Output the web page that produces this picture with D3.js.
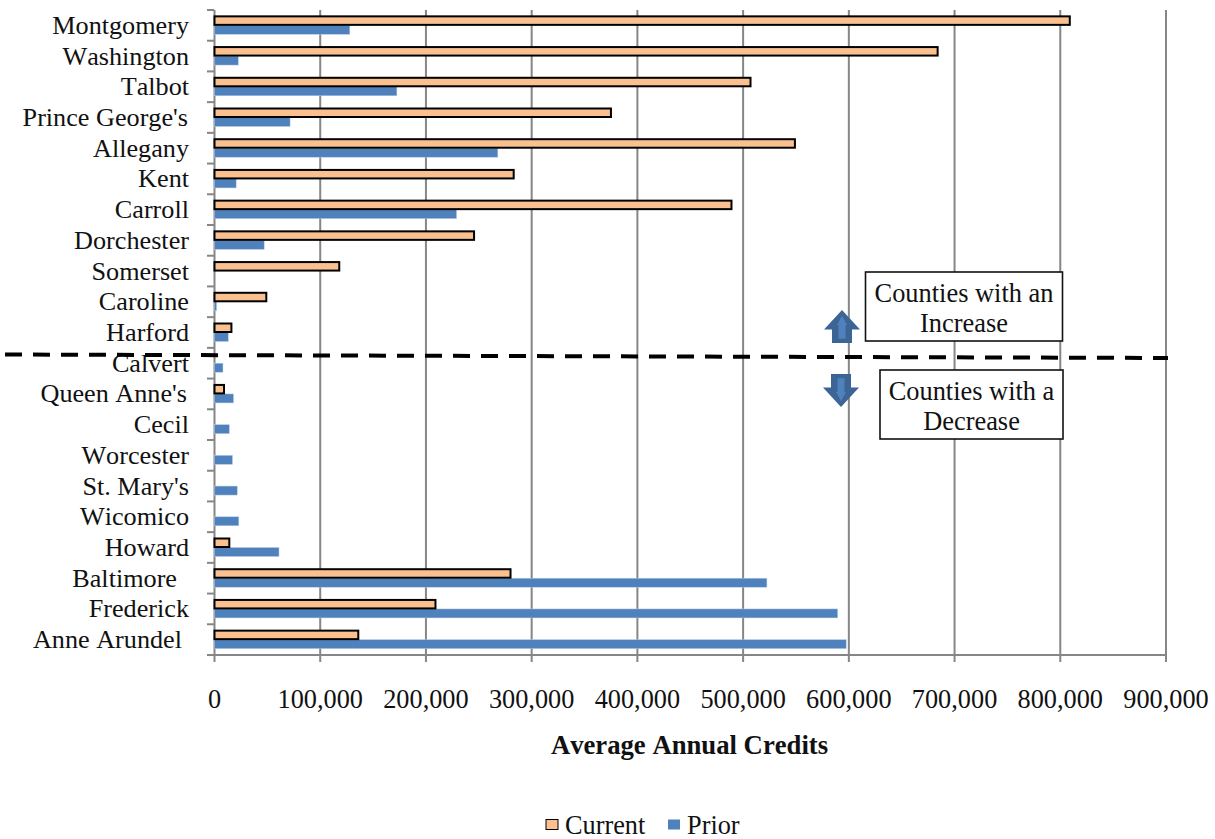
<!DOCTYPE html>
<html><head><meta charset="utf-8">
<script src="https://cdn.jsdelivr.net/npm/d3@7/dist/d3.min.js"></script>
<style>html,body{margin:0;padding:0;background:#fff}svg{display:block}text{font-family:"Liberation Serif",serif;fill:#111;font-kerning:none}</style>
</head><body><svg id="c" width="1215" height="839"></svg>
<script>
const counties=["Montgomery","Washington","Talbot","Prince George's","Allegany","Kent","Carroll","Dorchester","Somerset","Caroline","Harford","Calvert","Queen Anne's","Cecil","Worcester","St. Mary's","Wicomico","Howard","Baltimore","Frederick","Anne Arundel"];
const current=[809000,684000,507000,375000,549000,283000,489000,245500,118000,49000,16000,0,9000,0,0,0,0,14000,280000,209000,136000];
const prior=[128000,22500,172500,71500,268000,20500,229000,47000,0,2000,13000,8000,18000,14000,17000,21500,23000,61000,522500,589500,597500];
const labelShift=[0,0,0,1,0,0,0,0,0,0,0,0,2,0,0,0,0,0,12,0,7];
const xTicks=[0,100000,200000,300000,400000,500000,600000,700000,800000,900000];
const seriesNames=["Current","Prior"];
const colors=["#fac090","#4f81bd"];

const svg=d3.select("#c");
const x=d3.scaleLinear().domain([0,900000]).range([214.5,1166]);
const y=d3.scaleBand().domain(counties).range([10,655]);
const grey="#868686";
const fmt=d3.format(",");

svg.append("g").selectAll("line").data(xTicks).join("line")
 .attr("x1",d=>x(d)).attr("x2",d=>x(d)).attr("y1",10).attr("y2",662)
 .attr("stroke",grey).attr("stroke-width",2);
svg.append("line").attr("x1",207).attr("x2",1166).attr("y1",655).attr("y2",655).attr("stroke",grey).attr("stroke-width",2);
const catEdges=counties.map(c=>y(c));
svg.append("g").selectAll("line").data(catEdges).join("line")
 .attr("x1",207).attr("x2",214).attr("y1",d=>d).attr("y2",d=>d).attr("stroke",grey).attr("stroke-width",2);

const h=9;
svg.append("g").selectAll("rect").data(counties).join("rect")
 .attr("x",x(0)).attr("y",c=>y(c)+y.bandwidth()/2).attr("height",h)
 .attr("width",(c,i)=>Math.max(0,x(prior[i])-x(0))).attr("fill",colors[1]).attr("stroke","#b9cde5").attr("stroke-width",.5);
svg.append("g").selectAll("rect").data(counties.filter((c,i)=>current[i]>0)).join("rect")
 .attr("x",x(0)).attr("y",c=>y(c)+y.bandwidth()/2-h).attr("height",h-.5)
 .attr("width",c=>x(current[counties.indexOf(c)])-x(0)).attr("fill",colors[0]).attr("stroke","#000").attr("stroke-width",2);

svg.append("g").selectAll("text").data(counties).join("text")
 .attr("x",(c,i)=>189-labelShift[i]).attr("y",c=>y(c)+y.bandwidth()/2+8.5)
 .attr("text-anchor","end").attr("font-size",26.2).text(c=>c);
svg.append("g").selectAll("text").data(xTicks).join("text")
 .attr("x",d=>x(d)).attr("y",708).attr("text-anchor","middle").attr("font-size",26.3).text(d=>fmt(d));

svg.append("text").attr("x",689.5).attr("y",754).attr("text-anchor","middle")
 .attr("font-size",26.7).attr("font-weight","bold").text("Average Annual Credits");

[[546,565],[668,687]].forEach((p,i)=>{
 svg.append("rect").attr("x",p[0]).attr("y",819.5).attr("width",12).attr("height",10)
  .attr("fill",colors[i]).attr("stroke",i==0?"#000":"none").attr("stroke-width",1);
 svg.append("text").attr("x",p[1]).attr("y",834).attr("font-size",26.3).text(seriesNames[i]);
});

svg.append("line").attr("x1",5).attr("y1",354.5).attr("x2",1168).attr("y2",358)
 .attr("stroke","#000").attr("stroke-width",4).attr("stroke-dasharray","17 11");

function box(bx,by,bw,bh,lines){
 svg.append("rect").attr("x",bx).attr("y",by).attr("width",bw).attr("height",bh).attr("fill","#fff").attr("stroke","#111").attr("stroke-width",1.6);
 lines.forEach((t,i)=>svg.append("text").attr("x",bx+bw/2).attr("y",by+29.5+i*30.5).attr("text-anchor","middle").attr("font-size",26.4).text(t));
}
box(865.5,272,197,69,["Counties with an","Increase"]);
box(880,370,183,69,["Counties with a","Decrease"]);

function arrow(cx,tipY,dir){
 const s=dir;
 const o=[[0,0],[18,27],[10,27],[10,46],[-10,46],[-10,27],[-18,27]].map(p=>[cx+p[0],tipY+s*p[1]*.72]);
 svg.append("path").attr("d",d3.line()(o)+"Z").attr("fill","#3c6595");
 const n=[[0,8],[5,21],[3.5,21],[3.5,40],[-3.5,40],[-3.5,21],[-5,21]].map(p=>[cx+p[0],tipY+s*p[1]*.72]);
 svg.append("path").attr("d",d3.line()(n)+"Z").attr("fill","#4f81bd");
}
arrow(842,310,1);
arrow(841,407,-1);
</script></body></html>
